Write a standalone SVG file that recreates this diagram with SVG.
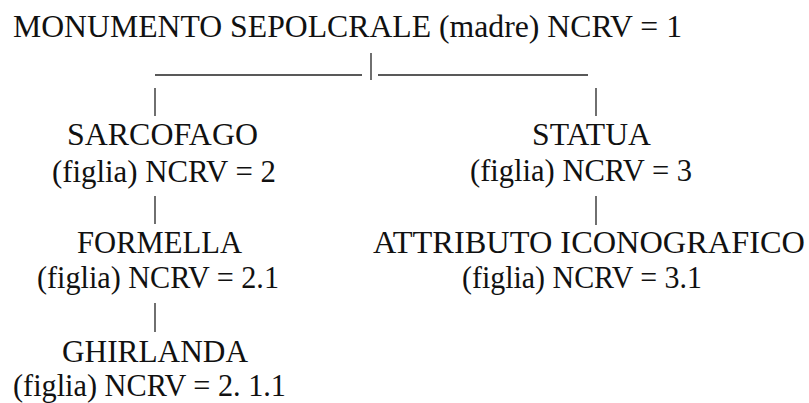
<svg xmlns="http://www.w3.org/2000/svg" width="809" height="403" viewBox="0 0 809 403">
  <style>
    .t { font-family: "Liberation Serif", "Times New Roman", serif; font-size: 31px; fill: #111; text-anchor: middle; }
    .c { stroke: #222; stroke-width: 1.3; fill: none; }
  </style>
  <rect width="809" height="403" fill="#fff"/>
  <g id="connectors">
    <line class="c" x1="371" y1="53" x2="371" y2="80"/>
    <line class="c" x1="155" y1="75" x2="362" y2="75"/>
    <line class="c" x1="378" y1="75" x2="588" y2="75"/>
    <line class="c" x1="155" y1="88" x2="155" y2="116"/>
    <line class="c" x1="596" y1="88" x2="596" y2="116"/>
    <line class="c" x1="155" y1="196" x2="155" y2="224"/>
    <line class="c" x1="155" y1="303" x2="155" y2="332"/>
    <line class="c" x1="596" y1="196" x2="596" y2="225"/>
  </g>
  <g id="monumento">
    <text class="t" x="347.5" y="37" textLength="669" lengthAdjust="spacingAndGlyphs">MONUMENTO SEPOLCRALE (madre) NCRV = 1</text>
  </g>
  <g id="sarcofago">
    <text class="t" x="162.5" y="145" textLength="191" lengthAdjust="spacingAndGlyphs">SARCOFAGO</text>
    <text class="t" x="164" y="182" textLength="224" lengthAdjust="spacingAndGlyphs">(figlia) NCRV = 2</text>
  </g>
  <g id="formella">
    <text class="t" x="159.5" y="253" textLength="165" lengthAdjust="spacingAndGlyphs">FORMELLA</text>
    <text class="t" x="158" y="288" textLength="242" lengthAdjust="spacingAndGlyphs">(figlia) NCRV = 2.1</text>
  </g>
  <g id="ghirlanda">
    <text class="t" x="155" y="362" textLength="186" lengthAdjust="spacingAndGlyphs">GHIRLANDA</text>
    <text class="t" x="149.5" y="396" textLength="273" lengthAdjust="spacingAndGlyphs">(figlia) NCRV = 2. 1.1</text>
  </g>
  <g id="statua">
    <text class="t" x="591.5" y="145" textLength="119" lengthAdjust="spacingAndGlyphs">STATUA</text>
    <text class="t" x="581" y="181" textLength="222" lengthAdjust="spacingAndGlyphs">(figlia) NCRV = 3</text>
  </g>
  <g id="attributo">
    <text class="t" x="589" y="253" textLength="432" lengthAdjust="spacingAndGlyphs">ATTRIBUTO ICONOGRAFICO</text>
    <text class="t" x="582" y="288" textLength="240" lengthAdjust="spacingAndGlyphs">(figlia) NCRV = 3.1</text>
  </g>
</svg>
